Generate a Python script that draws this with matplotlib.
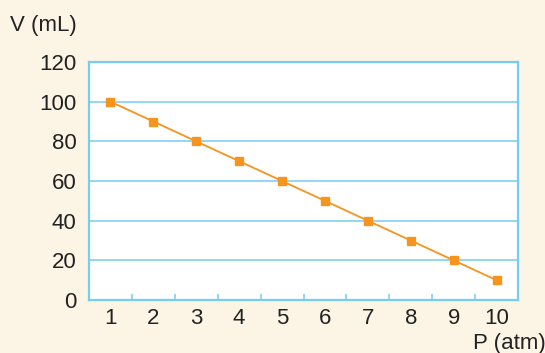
import matplotlib.pyplot as plt

# Boyle's law: volume against pressure
pressure = [1, 2, 3, 4, 5, 6, 7, 8, 9, 10]
volume = [100, 90, 80, 70, 60, 50, 40, 30, 20, 10]
y_ticks = [0, 20, 40, 60, 80, 100, 120]

BG = '#fcf5e6'
BLUE = '#74cdf2'
ORANGE = '#f7941d'
INK = '#222222'

plt.rcParams['font.family'] = ['Liberation Sans', 'DejaVu Sans']

fig = plt.figure(figsize=(5.45, 3.53), dpi=100, facecolor=BG)
ax = fig.add_axes([89 / 545, 1 - 300 / 353, 429 / 545, 238 / 353])
ax.set_facecolor('white')

ax.set_xlim(0.5, 10.5)
ax.set_ylim(0, 120)

for y in y_ticks[1:-1]:
    ax.axhline(y, color=BLUE, lw=1.1, zorder=1)

ax.plot(pressure, volume, color=ORANGE, lw=1.3, marker='s', ms=6,
        mec=ORANGE, mfc=ORANGE, zorder=3)

for side in ax.spines.values():
    side.set_color(BLUE)
    side.set_linewidth(1.6)

ax.set_yticks(y_ticks)
ax.tick_params(axis='y', length=0, pad=9, labelsize=16, colors=INK)

# tick marks sit between categories, labels at category centres
ax.set_xticks([k + 0.5 for k in range(1, 10)])
ax.set_xticklabels([])
ax.set_xticks(pressure, minor=True)
ax.set_xticklabels([str(p) for p in pressure], minor=True)
ax.tick_params(axis='x', which='major', direction='in', length=4,
               width=1.1, color=BLUE)
ax.tick_params(axis='x', which='minor', length=0, pad=6, labelsize=16,
               colors=INK)

fig.text(10 / 545, 1 - 25 / 353, 'V (mL)', fontsize=16, color=INK,
         ha='left', va='center')
fig.text(546 / 545, 1 - 344 / 353, 'P (atm)', fontsize=16, color=INK,
         ha='right', va='center')

fig.savefig('out.png', dpi=100, facecolor=BG)
